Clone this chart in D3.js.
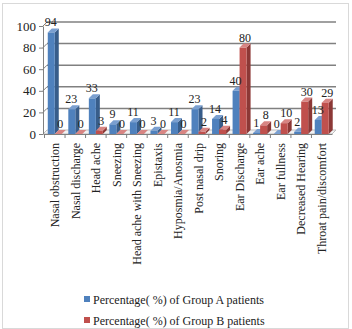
<!DOCTYPE html>
<meta charset="utf-8">
<script src="https://d3js.org/d3.v7.min.js"></script>
<style>
  body { margin: 0; background: #fff; }
</style>
<div id="chart"></div>
<script>
// categories and values
var symptoms = ["Nasal obstruction", "Nasal discharge", "Head ache", "Sneezing",
  "Head ache with Sneezing", "Epistaxis", "Hyposmia/Anosmia", "Post nasal drip",
  "Snoring", "Ear Discharge", "Ear ache", "Ear fullness", "Decreased Hearing",
  "Throat pain/discomfort"];
var groupA = [94, 23, 33, 9, 11, 3, 11, 23, 14, 40, 1, 0, 2, 13];
var groupB = [0, 0, 3, 0, 0, 0, 0, 2, 4, 80, 8, 10, 30, 29];
var seriesNames = ["Percentage( %) of  Group A patients", "Percentage( %) of  Group B patients"];
var yTicks = [0, 20, 40, 60, 80, 100];

var serif = "'Liberation Serif', 'Times New Roman', serif";

var W = 352, H = 329;
var margin = {top: 26, right: 20, bottom: 195, left: 43};
var width = W - margin.left - margin.right;
var height = H - margin.top - margin.bottom;
var depth = 4; // little 3d offset

var colors = [
  {front: "#4F81BD", side: "#385D8A", top: "#7A9FD0"},
  {front: "#C0504D", side: "#8C3836", top: "#D88583"}
];

var svg = d3.select("#chart").append("svg")
  .attr("width", W).attr("height", H);

// outer frame
svg.append("rect")
  .attr("x", 2.5).attr("y", 3.5)
  .attr("width", W - 6).attr("height", H - 4)
  .attr("fill", "#fff").attr("stroke", "#d9d9d9");

var g = svg.append("g")
  .attr("transform", "translate(" + margin.left + "," + margin.top + ")");

var x = d3.scaleBand().domain(symptoms).range([1.5, width]);
var y = d3.scaleLinear().domain([0, 100]).range([height, 0]);

// back wall grid
yTicks.forEach(function(t) {
  if (t === 0) return;
  g.append("line")
    .attr("x1", depth).attr("x2", width + depth)
    .attr("y1", y(t) - depth).attr("y2", y(t) - depth)
    .attr("stroke", "#808080").attr("stroke-width", 1.5);
  g.append("line")
    .attr("x1", 0).attr("x2", depth)
    .attr("y1", y(t)).attr("y2", y(t) - depth)
    .attr("stroke", "#808080");
});

// floor
g.append("path")
  .attr("d", "M0," + height + "L" + depth + "," + (height - depth) +
    "L" + (width + depth) + "," + (height - depth) + "L" + width + "," + height + "Z")
  .attr("fill", "#f2f2f2").attr("stroke", "#bfbfbf");

// bars
var barW = 7;
var data = [groupA, groupB];
function barX(d, si) { return x(d) + x.bandwidth() / 2 - barW + si * barW; }

data.forEach(function(vals, si) {
  var c = colors[si];
  var bars = g.selectAll(".bar" + si).data(symptoms).enter().append("g");
  bars.each(function(d, i) {
    var bx = barX(d, si);
    var by = y(vals[i]);
    var bh = height - by;
    var sel = d3.select(this);
    sel.append("path")
      .attr("d", "M" + (bx + barW) + "," + by + "l" + depth + "," + (-depth) +
        "l0," + bh + "l" + (-depth) + "," + depth + "Z")
      .attr("fill", c.side);
    sel.append("path")
      .attr("d", "M" + bx + "," + by + "l" + depth + "," + (-depth) +
        "l" + barW + ",0l" + (-depth) + "," + depth + "Z")
      .attr("fill", c.top);
    sel.append("rect")
      .attr("x", bx).attr("y", by)
      .attr("width", barW).attr("height", bh)
      .attr("fill", c.front);
  });
});

// value labels (nudged apart a little so neighbours don't collide)
data.forEach(function(vals, si) {
  g.selectAll(".lab" + si).data(symptoms).enter().append("text")
    .attr("x", function(d) { return barX(d, si) + barW / 2 + (si ? 2 : -0.5); })
    .attr("y", function(d, i) { return y(vals[i]) - 6; })
    .attr("text-anchor", "middle")
    .style("font-family", serif)
    .style("font-size", "12px")
    .attr("fill", "#222")
    .text(function(d, i) { return vals[i]; });
});

// y axis
var yAxis = g.append("g")
  .call(d3.axisLeft(y).tickValues(yTicks).tickSize(4).tickSizeOuter(0));
yAxis.select(".domain").attr("stroke", "#808080");
yAxis.selectAll(".tick line").attr("stroke", "#808080");
yAxis.selectAll("text")
  .style("font-family", serif).style("font-size", "13px")
  .attr("fill", "#222");

// x axis
var xAxis = g.append("g")
  .attr("transform", "translate(0," + height + ")")
  .call(d3.axisBottom(x).tickSize(4).tickSizeOuter(0));
xAxis.select(".domain").attr("stroke", "#808080");
xAxis.selectAll(".tick line").attr("stroke", "#808080")
  .attr("transform", "translate(" + (-x.bandwidth() / 2) + ",0)");
xAxis.selectAll("text")
  .style("font-family", serif).style("font-size", "12px")
  .attr("fill", "#222")
  .attr("transform", "rotate(-90)")
  .attr("text-anchor", "end")
  .attr("x", -9).attr("y", 0).attr("dy", "0.35em");

// legend
var leg = svg.append("g").attr("transform", "translate(84,296)");
seriesNames.forEach(function(name, i) {
  leg.append("rect")
    .attr("x", 0).attr("y", i * 21)
    .attr("width", 6).attr("height", 6)
    .attr("fill", colors[i].front);
  leg.append("text")
    .attr("x", 9).attr("y", i * 21 + 7.5)
    .style("font-family", serif).style("font-size", "12px")
    .attr("fill", "#222")
    .text(name);
});
</script>
